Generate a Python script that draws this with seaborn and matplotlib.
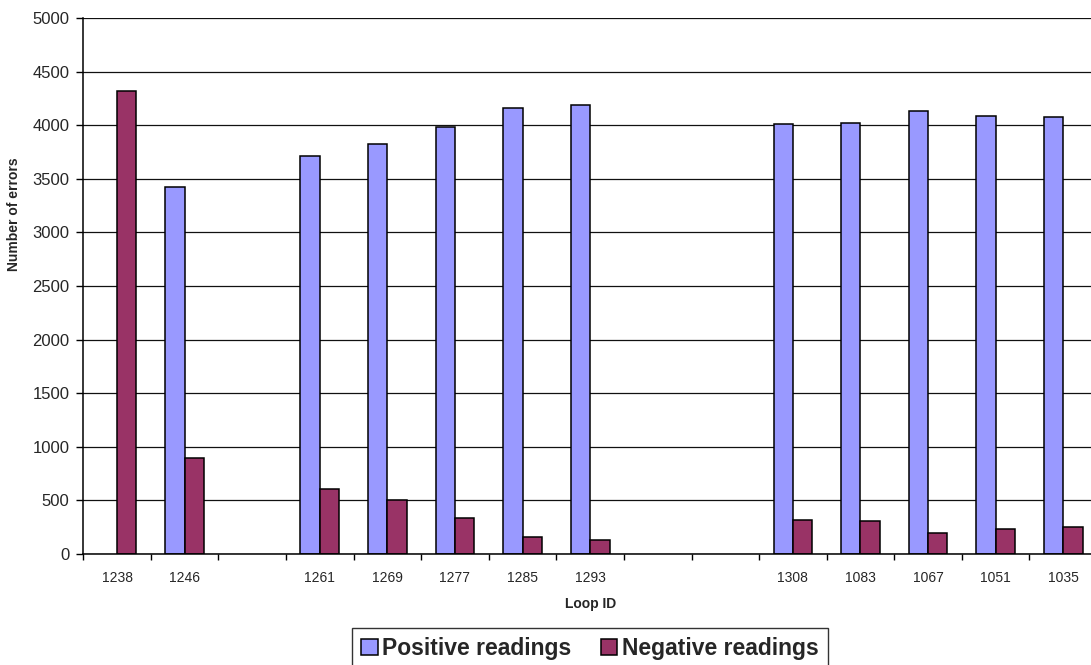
import matplotlib
matplotlib.use("Agg")
import matplotlib.pyplot as plt
import seaborn as sns
import pandas as pd
import numpy as np
from matplotlib.ticker import FixedLocator

# ---- data ----
loop_ids = ["1238", "1246", "", "1261", "1269", "1277", "1285", "1293", "", "",
            "1308", "1083", "1067", "1051", "1035"]
positive = [None, 3420, None, 3715, 3820, 3985, 4160, 4188, None, None,
            4014, 4017, 4130, 4089, 4076]
negative = [4320, 895, None, 603, 501, 336, 159, 134, None, None,
            314, 305, 193, 236, 249]
series_names = ["Positive readings", "Negative readings"]
colors = ["#9999FF", "#993366"]
y_ticks = [0, 500, 1000, 1500, 2000, 2500, 3000, 3500, 4000, 4500, 5000]

# unique keys for slots (blank slots keep their position)
keys = [lab if lab else f"_gap{i}" for i, lab in enumerate(loop_ids)]
rows = []
for k, p, n in zip(keys, positive, negative):
    if p is not None:
        rows.append({"slot": k, "series": series_names[0], "value": p})
    if n is not None:
        rows.append({"slot": k, "series": series_names[1], "value": n})
df = pd.DataFrame(rows)

sns.set_theme(style="white")
plt.rcParams["font.family"] = ["Liberation Sans", "DejaVu Sans"]

fig = plt.figure(figsize=(10.91, 6.65), dpi=100)
ax_w = (1097 - 83.3) / 1091
ax = fig.add_axes([83.3 / 1091, 1 - 554 / 665, ax_w, 536 / 665])

sns.barplot(data=df, x="slot", y="value", hue="series", order=keys,
            hue_order=series_names, palette=colors, width=0.573,
            edgecolor="black", linewidth=1.1, saturation=1, ax=ax,
            legend=True, errorbar=None)

ax.set_ylim(0, 5000)
ax.set_xlim(-0.5, len(keys) - 0.5)
ax.set_yticks(y_ticks)
ax.set_yticklabels([str(v) for v in y_ticks], fontsize=12)
ax.yaxis.grid(True, color="#111111", linewidth=0.9)
ax.set_axisbelow(True)
ax.tick_params(axis="y", which="major", length=5, width=1, color="black",
               pad=5, left=True)

# labels at centers, ticks at slot boundaries
ax.set_xticks(range(len(keys)))
ax.set_xticklabels(loop_ids, fontsize=10)
ax.tick_params(axis="x", which="major", length=0, pad=12)
ax.xaxis.set_minor_locator(FixedLocator(np.arange(-0.5, len(keys), 1.0)))
ax.tick_params(axis="x", which="minor", length=4, width=1, color="black",
               bottom=True)

for s in ["top", "right"]:
    ax.spines[s].set_visible(False)
for s in ["left", "bottom"]:
    ax.spines[s].set_color("black")
    ax.spines[s].set_linewidth(1.1)

ax.set_xlabel("Loop ID", fontsize=10, fontweight="bold")
ax.xaxis.set_label_coords(0.5, -(597 - 554) / 536)
ax.set_ylabel("Number of errors", fontsize=10, fontweight="bold")
ax.yaxis.set_label_coords(-(83.3 - 21) / (1097 - 83.3), (554 - 214) / 536)

handles, labels = ax.get_legend_handles_labels()
ax.get_legend().remove()
leg = fig.legend(handles, labels, loc="upper center", ncol=2,
                 bbox_to_anchor=(590 / 1091, 1 - 628 / 665),
                 prop={"size": 16.5, "weight": "bold"},
                 frameon=True, fancybox=False, edgecolor="black",
                 handlelength=0.7, handleheight=0.7, handletextpad=0.2,
                 columnspacing=1.3, borderpad=0.4, borderaxespad=0)
leg.get_frame().set_linewidth(1.0)

fig.savefig("out.png", dpi=100)
